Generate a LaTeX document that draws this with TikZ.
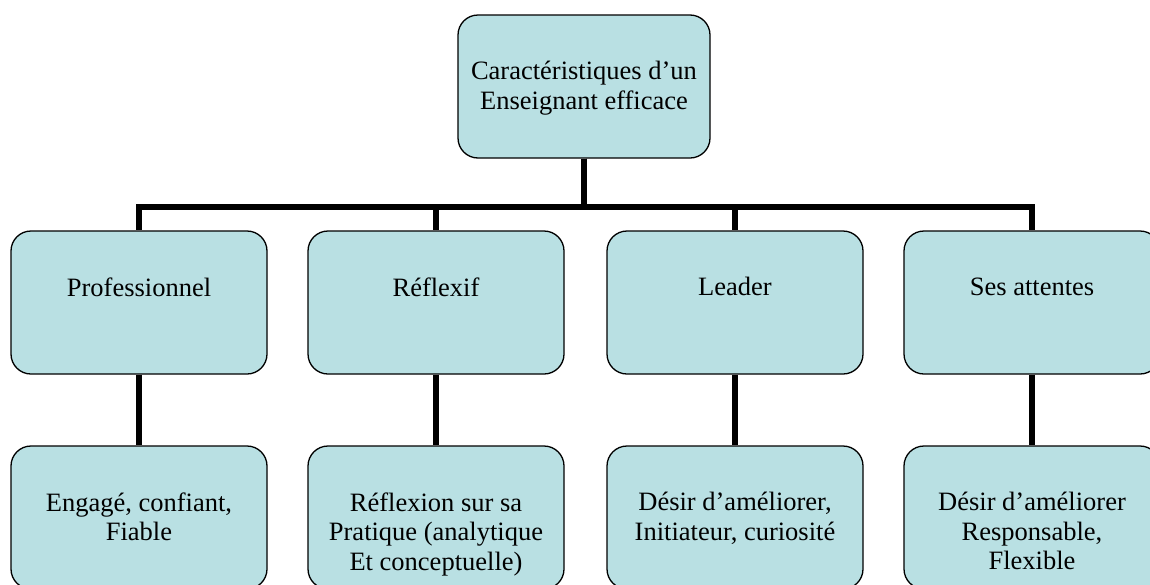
\documentclass[tikz,border=0pt]{standalone}
\usepackage{fontspec}
\setmainfont{Liberation Serif}
\definecolor{boxfill}{RGB}{185,224,227}
\begin{document}
\begin{tikzpicture}[x=1pt,y=-1pt,
  box/.style={draw=black,line width=1.3pt,fill=boxfill,rounded corners=20pt,
    minimum width=256pt,minimum height=143pt,inner sep=0pt},
  label/.style={anchor=north,align=center,inner sep=0pt,
    font=\fontsize{26.5}{29.5}\selectfont},
  conn/.style={line width=6pt,line join=miter}]
\useasboundingbox (0,0) rectangle (1150,584);
\clip (0,0) rectangle (1150,584);
% boxes
\node[box,minimum width=252pt] (top) at (584,86.5) {};
\node[box] (p1) at (139,302.5) {};
\node[box] (p2) at (436,302.5) {};
\node[box] (p3) at (735,302.5) {};
\node[box] (p4) at (1032,302.5) {};
\node[box] (q1) at (139,517.5) {};
\node[box] (q2) at (436,517.5) {};
\node[box] (q3) at (735,517.5) {};
\node[box] (q4) at (1032,517.5) {};
% connectors
\coordinate (bar) at (0,207);
\foreach \n in {p1,p2,p3,p4}{
  \draw[conn] (top.south) -- (top.south |- bar) -| (\n.north);
}
\foreach \i in {1,2,3,4}{
  \draw[conn] (p\i.south) -- (q\i.north);
}
% texts
\node[label] (tt) at ([yshift=-47pt]top.north) {Caractéristiques d’un\\Enseignant efficace};
\node[label] (t1) at ([yshift=-47pt]p1.north) {Professionnel};
\node[label] (t2) at ([yshift=-47pt]p2.north) {Réflexif};
\node[label] (t3) at ([yshift=-47pt]p3.north) {Leader};
\node[label] (t4) at ([yshift=-47pt]p4.north) {Ses attentes};
\node[label] (u1) at ([yshift=-47pt]q1.north) {Engagé, confiant,\\Fiable};
\node[label] (u2) at ([yshift=-47pt]q2.north) {Réflexion sur sa\\Pratique (analytique\\Et conceptuelle)};
\node[label] (u3) at ([yshift=-47pt]q3.north) {Désir d’améliorer,\\Initiateur, curiosité};
\node[label] (u4) at ([yshift=-47pt]q4.north) {Désir d’améliorer\\Responsable,\\Flexible};
\end{tikzpicture}
\end{document}
